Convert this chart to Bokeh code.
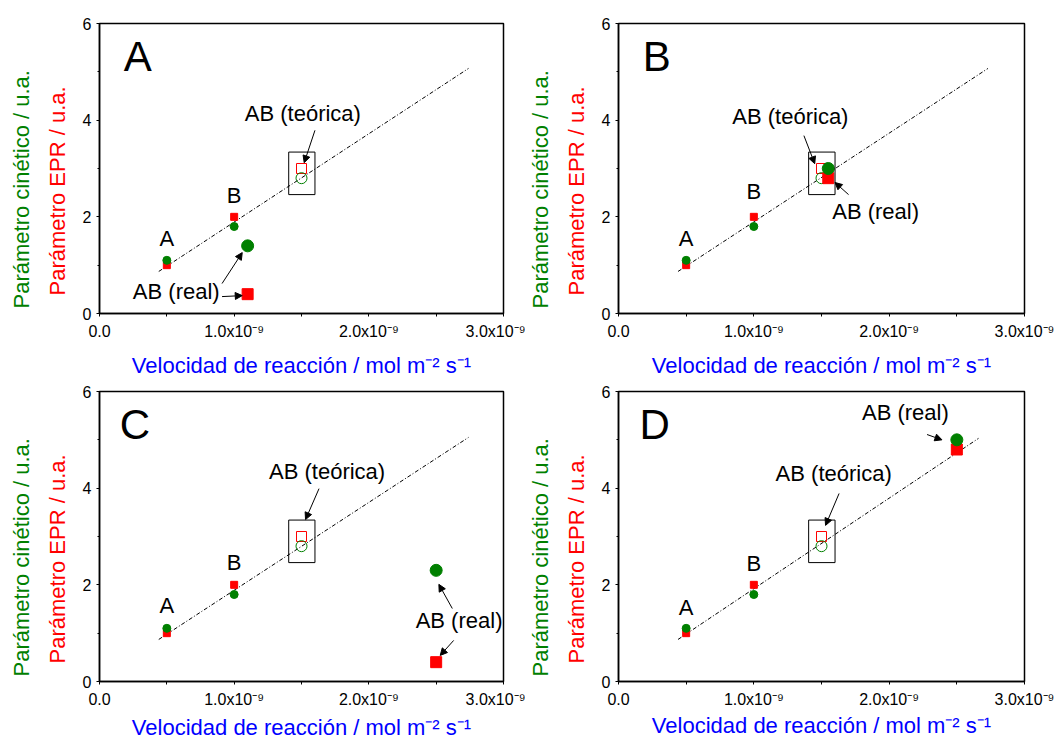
from bokeh.plotting import figure
from bokeh.layouts import row, column
from bokeh.models import (Title, Label, Arrow, NormalHead, FixedTicker,
                          CustomJSTickFormatter, BoxAnnotation, Range1d)
from bokeh.embed import file_html
from bokeh.resources import INLINE

# ---------------- data ----------------
panel_names = ["A", "B", "C", "D"]
ref_names = ["A", "B"]
x_ref = [0.5e-9, 1.0e-9]          # reaction rate, mol m-2 s-1
kin_ref = [1.1, 1.8]              # kinetic parameter
epr_ref = [1.0, 2.0]              # EPR parameter
x_theo = [1.5e-9]
kin_theo = [2.8]
epr_theo = [3.0]
x_real = [1.1e-9, 1.55e-9, 2.5e-9, 2.5e-9]
kin_real = [1.4, 3.0, 2.3, 5.0]
epr_real = [0.4, 2.8, 0.4, 4.8]
fit_x = [[0.44e-9, 2.74e-9], [0.44e-9, 2.73e-9], [0.44e-9, 2.74e-9], [0.44e-9, 2.66e-9]]
fit_y = [[0.87, 5.07], [0.87, 5.07], [0.87, 5.05], [0.87, 5.03]]
x_ticks = [0.0, 1.0e-9, 2.0e-9, 3.0e-9]
x_minor = [0.5e-9, 1.5e-9, 2.5e-9]
y_ticks = [0, 2, 4, 6]
y_minor = [1, 3, 5]

# ---------------- layout of annotations (text anchors at cap centre) ----------------
ann = {
    "A": dict(letter=(0.18e-9, 5.32), la=(0.5e-9, 1.56), lb=(1.0e-9, 2.45),
              theo=(1.51e-9, 4.14), theo_arrows=[(1.60e-9, 3.79, 1.52e-9, 3.12)],
              real=(0.57e-9, 0.46),
              real_arrows=[(0.91e-9, 0.62, 1.06e-9, 1.26), (0.91e-9, 0.35, 1.06e-9, 0.37)]),
    "B": dict(letter=(0.18e-9, 5.32), la=(0.5e-9, 1.56), lb=(1.0e-9, 2.53),
              theo=(1.27e-9, 4.08), theo_arrows=[(1.37e-9, 3.68, 1.45e-9, 3.10)],
              real=(1.90e-9, 2.11),
              real_arrows=[(1.70e-9, 2.46, 1.60e-9, 2.71)]),
    "C": dict(letter=(0.15e-9, 5.32), la=(0.5e-9, 1.58), lb=(1.0e-9, 2.47),
              theo=(1.69e-9, 4.35), theo_arrows=[(1.63e-9, 3.99, 1.53e-9, 3.35)],
              real=(2.67e-9, 1.27),
              real_arrows=[(2.62e-9, 1.51, 2.52e-9, 2.01), (2.63e-9, 0.85, 2.53e-9, 0.54)]),
    "D": dict(letter=(0.155e-9, 5.32), la=(0.5e-9, 1.53), lb=(1.0e-9, 2.45),
              theo=(1.59e-9, 4.31), theo_arrows=[(1.63e-9, 3.89, 1.53e-9, 3.23)],
              real=(2.12e-9, 5.57),
              real_arrows=[(2.28e-9, 5.11, 2.39e-9, 5.0)]),
}

FONT = "Liberation Sans"
GREEN = "#008000"
RED = "#ff0000"
BLUE = "#0000ff"

geom = {
    "A": dict(fw=404, left=99, right=22, top=23, bottom=40, xstand=10),
    "B": dict(fw=406, left=91, right=30, top=23, bottom=40, xstand=10),
    "C": dict(fw=404, left=99, right=22, top=9, bottom=40, xstand=4),
    "D": dict(fw=406, left=91, right=30, top=11, bottom=40, xstand=2),
}


def make_panel(i, name):
    g = geom[name]
    p = figure(output_backend="svg", toolbar_location=None,
               frame_width=g["fw"], frame_height=290,
               min_border_left=g["left"], min_border_right=g["right"],
               min_border_top=g["top"], min_border_bottom=g["bottom"],
               x_range=Range1d(0, 3.0e-9), y_range=Range1d(0, 6),
               background_fill_color="white", border_fill_color="white")
    p.grid.visible = False
    p.outline_line_color = "black"
    p.outline_line_width = 1.5

    # x axis
    xa = p.xaxis[0]
    xa.ticker = FixedTicker(ticks=x_ticks, minor_ticks=x_minor)
    xa.formatter = CustomJSTickFormatter(code="""
        if (Math.abs(tick) < 1e-15) { return "0.0"; }
        return (tick / 1e-9).toFixed(1) + "x10\u207B\u2079";
    """)
    xa.major_tick_out = 3
    xa.major_tick_in = 0
    xa.minor_tick_out = 3
    xa.minor_tick_in = 0
    xa.axis_line_width = 1.5
    xa.axis_line_color = "black"
    xa.major_tick_line_color = "black"
    xa.minor_tick_line_color = "black"
    xa.major_label_text_font = FONT
    xa.major_label_text_font_size = "16px"
    xa.major_label_text_color = "black"
    xa.major_label_standoff = 6
    xa.axis_label = "Velocidad de reacción / mol m\u207B\u00B2 s\u207B\u00B9"
    xa.axis_label_text_font = FONT
    xa.axis_label_text_font_size = "22px"
    xa.axis_label_text_font_style = "normal"
    xa.axis_label_text_color = BLUE
    xa.axis_label_standoff = g["xstand"]

    # y axis
    ya = p.yaxis[0]
    ya.ticker = FixedTicker(ticks=y_ticks, minor_ticks=y_minor)
    ya.major_tick_out = 3
    ya.major_tick_in = 0
    ya.minor_tick_out = 2
    ya.minor_tick_in = 0
    ya.axis_line_width = 1.5
    ya.axis_line_color = "black"
    ya.major_tick_line_color = "black"
    ya.minor_tick_line_color = "black"
    ya.major_label_text_font = FONT
    ya.major_label_text_font_size = "16px"
    ya.major_label_text_color = "black"
    ya.major_label_standoff = 5
    ya.major_label_orientation = "horizontal"

    t_red = Title(text="Parámetro EPR / u.a.", text_color=RED,
                  text_font=FONT, text_font_size="22px", text_font_style="normal",
                  align="left", offset=18, standoff=19)
    t_green = Title(text="Parámetro cinético / u.a.", text_color=GREEN,
                    text_font=FONT, text_font_size="22px", text_font_style="normal",
                    align="left", offset=5, standoff=0)
    p.add_layout(t_red, "left")
    p.add_layout(t_green, "left")

    # fit line
    p.line(fit_x[i], fit_y[i], line_color="black", line_width=1, line_dash="4 2 1 2")

    # box around theoretical point
    p.add_layout(BoxAnnotation(left=1.405e-9, right=1.6e-9, bottom=2.46, top=3.34,
                               fill_alpha=0, line_color="black", line_width=1,
                               line_alpha=1))

    # reference points A and B
    p.scatter(x_ref, epr_ref, marker="square", size=7, fill_color=RED, line_color=RED)
    p.scatter(x_ref, kin_ref, marker="circle", size=8, fill_color=GREEN, line_color=GREEN)

    # theoretical AB
    p.scatter(x_theo, epr_theo, marker="square", size=10, fill_color=None,
              line_color=RED, line_width=1)
    p.scatter(x_theo, kin_theo, marker="circle", size=11, fill_color=None,
              line_color=GREEN, line_width=1)

    # real AB
    p.scatter([x_real[i]], [epr_real[i]], marker="square", size=11,
              fill_color=RED, line_color=RED)
    p.scatter([x_real[i]], [kin_real[i]], marker="circle", size=12,
              fill_color=GREEN, line_color=GREEN)

    a = ann[name]
    # panel letter
    p.add_layout(Label(x=a["letter"][0], y=a["letter"][1], text=name,
                       text_font=FONT, text_font_size="42px", text_color="black",
                       text_align="left", text_baseline="alphabetic"))
    for (pos, txt) in [(a["la"], ref_names[0]), (a["lb"], ref_names[1]),
                       (a["theo"], "AB (teórica)"), (a["real"], "AB (real)")]:
        p.add_layout(Label(x=pos[0], y=pos[1], text=txt, text_font=FONT,
                           text_font_size="22px", text_color="black",
                           text_align="center", text_baseline="alphabetic"))
    for (x0, y0, x1, y1) in a["theo_arrows"] + a["real_arrows"]:
        p.add_layout(Arrow(x_start=x0, y_start=y0, x_end=x1, y_end=y1,
                           line_color="black", line_width=1,
                           end=NormalHead(size=7, fill_color="black",
                                          line_color="black", line_width=1)))
    return p


figs = [make_panel(i, n) for i, n in enumerate(panel_names)]
layout = column(row(figs[0], figs[1]), row(figs[2], figs[3]))

open("out.html", "w").write(file_html(layout, INLINE))
